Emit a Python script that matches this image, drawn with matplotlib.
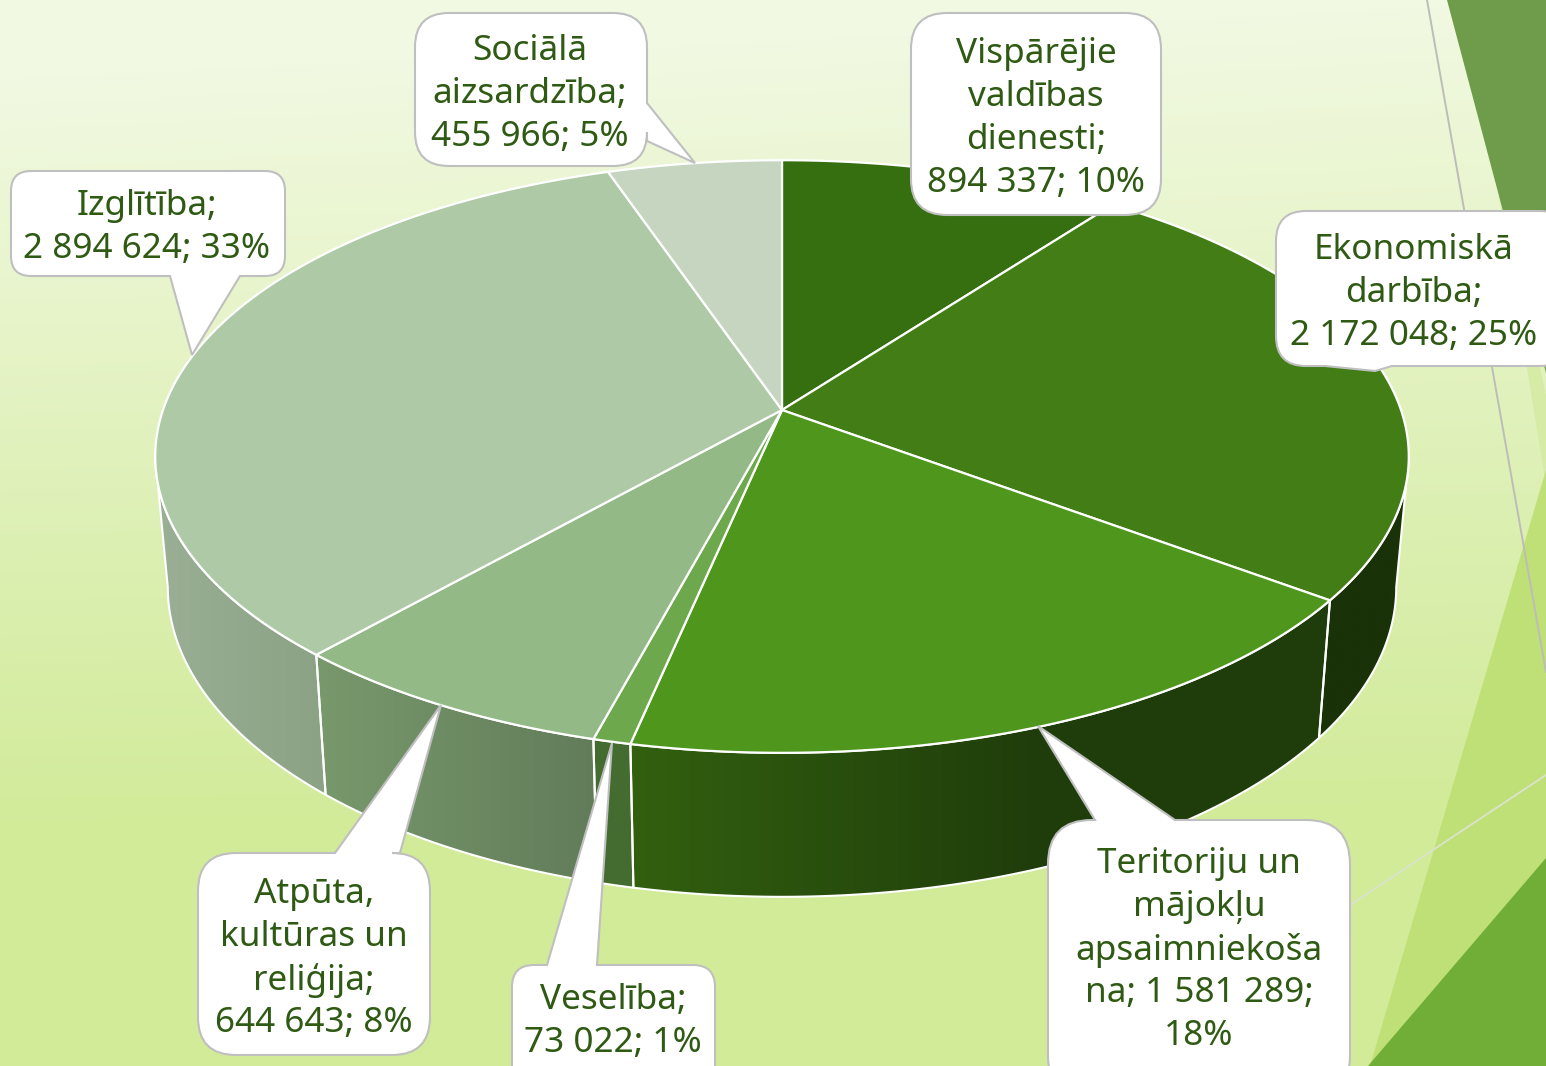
import numpy as np
import matplotlib
matplotlib.use("Agg")
import matplotlib.pyplot as plt
from matplotlib.path import Path
from matplotlib.patches import PathPatch, Polygon
from matplotlib.colors import to_rgb

plt.rcParams['font.family'] = ['Noto Sans', 'DejaVu Sans']

# chart data, clockwise from 12 o'clock
categories = ["Vispārējie valdības dienesti", "Ekonomiskā darbība",
              "Teritoriju un mājokļu apsaimniekošana", "Veselība",
              "Atpūta, kultūras un reliģija", "Izglītība", "Sociālā aizsardzība"]
values = [894337, 2172048, 1581289, 73022, 644643, 2894624, 455966]
label_texts = ["Vispārējie\nvaldības\ndienesti;\n894 337; 10%",
               "Ekonomiskā\ndarbība;\n2 172 048; 25%",
               "Teritoriju un\nmājokļu\napsaimniekoša\nna; 1 581 289;\n18%",
               "Veselība;\n73 022; 1%",
               "Atpūta,\nkultūras un\nreliģija;\n644 643; 8%",
               "Izglītība;\n2 894 624; 33%",
               "Sociālā\naizsardzība;\n455 966; 5%"]

top_colors = ["#356f10", "#427d16", "#4f971c", "#6ea84c", "#92b986", "#aec9a6", "#c5d5c0"]
side_left = ["#1f3d0a", "#1a3208", "#32600f", "#446c30", "#78996c", "#9aaf95", "#a0b49a"]
side_right = ["#1f3d0a", "#1a3208", "#1f3c0b", "#446c30", "#627c5a", "#8ba284", "#a0b49a"]
side_span = [1, 1, 0.6, 1, 1, 1, 1]

W, H = 1546, 1066
fig = plt.figure(figsize=(W / 100, H / 100), dpi=100)
ax = fig.add_axes([0, 0, 1, 1])
ax.set_xlim(0, W)
ax.set_ylim(H, 0)
ax.axis("off")

# background gradient
yy, xx = np.mgrid[0:H:2, 0:W:2]
t = np.clip(yy / H - 0.08 * (1 - xx / W) * (1 - yy / H), 0, 1)
stops = [0, 0.25, 0.5, 0.75, 1]
rgb = [to_rgb(c) for c in ["#f1f9e2", "#e7f4c9", "#dbefb0", "#d2eb9a", "#d2eb98"]]
bg = np.dstack([np.interp(t, stops, [c[i] for c in rgb]) for i in range(3)])
ax.imshow(bg, extent=[0, W, H, 0], aspect="auto", zorder=0)

# decoration on the right
ax.add_patch(Polygon([(1490, 140), (1546, 395), (1546, 485)], color="#d6eba6", lw=0, zorder=1))
ax.add_patch(Polygon([(1447, 0), (1546, 0), (1546, 373)], color="#6f9c4a", lw=0, zorder=1))
ax.add_patch(Polygon([(1370, 1066), (1546, 470), (1546, 860)], color="#bfdf77", lw=0, zorder=1))
ax.add_patch(Polygon([(1368, 1066), (1546, 858), (1546, 1066)], color="#70ae38", lw=0, zorder=1))
ax.plot([1427, 1546], [0, 672], color="#bdbdb8", lw=1.4, zorder=1)
ax.plot([1350, 1546], [905, 775], color="#d9e3c8", lw=1.4, zorder=1)


# perspective view of the pie disc
def rim(theta):
    u, v = np.sin(theta), np.cos(theta)
    w = 1 + 0.157 * v
    return 782 + 619 * u / w, 410 - 289 * v / w


def base(theta):
    x, y = rim(theta)
    return 782 + 0.98 * (x - 782), y + 128 - 16 * np.cos(theta)


fracs = np.array(values) / sum(values)
edges = np.concatenate([[0], np.cumsum(fracs)]) * 2 * np.pi

# only the front of the wall shows, between the two widest points of the disc
vis_a = np.arccos(-0.157)
vis_b = 2 * np.pi - vis_a

# sides, drawn from the outer slices to the front one
for i in [1, 5, 4, 3, 2]:
    a = max(edges[i], vis_a)
    b = min(edges[i + 1], vis_b)
    th = np.linspace(a, b, 120)
    xt, yt = rim(th)
    xb, yb = base(th)
    pts = np.vstack([np.column_stack([xt, yt]), np.column_stack([xb, yb])[::-1]])
    patch = Polygon(pts, closed=True, fc="none", ec="white", lw=1.5, zorder=2.1)
    ax.add_patch(patch)
    c0, c1 = np.array(to_rgb(side_left[i])), np.array(to_rgb(side_right[i]))
    s = np.clip(np.linspace(0, 1, 128) / side_span[i], 0, 1)[None, :, None]
    im = ax.imshow(c0 + (c1 - c0) * s, extent=[pts[:, 0].min(), pts[:, 0].max(), pts[:, 1].max(), pts[:, 1].min()],
                   aspect="auto", zorder=2)
    im.set_clip_path(patch)
ax.set_xlim(0, W)
ax.set_ylim(H, 0)

# top face
for i in range(len(values)):
    th = np.linspace(edges[i], edges[i + 1], 160)
    xt, yt = rim(th)
    pts = np.vstack([[782, 410], np.column_stack([xt, yt])])
    ax.add_patch(Polygon(pts, closed=True, fc=top_colors[i], ec="white", lw=1.6, joinstyle="round", zorder=3))


# rounded callout with optional tail points on a side
def callout(x0, y0, x1, y1, r, top=(), right=(), bottom=(), left=()):
    verts = [(x0 + r, y0)]
    codes = [Path.MOVETO]
    def add(p):
        verts.append(p)
        codes.append(Path.LINETO)
    def corner(c, e):
        verts.extend([c, e])
        codes.extend([Path.CURVE3, Path.CURVE3])
    for p in top:
        add(p)
    add((x1 - r, y0))
    corner((x1, y0), (x1, y0 + r))
    for p in right:
        add(p)
    add((x1, y1 - r))
    corner((x1, y1), (x1 - r, y1))
    for p in bottom:
        add(p)
    add((x0 + r, y1))
    corner((x0, y1), (x0, y1 - r))
    for p in left:
        add(p)
    add((x0, y0 + r))
    corner((x0, y0), (x0 + r, y0))
    ax.add_patch(PathPatch(Path(verts, codes), fc="white", ec="#bfbfbf", lw=1.5, zorder=4))


callout(911, 13, 1161, 215, 36)
callout(1276, 211, 1570, 366, 30, bottom=[(1392, 366), (1375, 371), (1325, 366)])
callout(1048, 820, 1350, 1100, 44, top=[(1095, 820), (1038, 726), (1175, 820)])
callout(512, 965, 715, 1100, 22, top=[(547, 965), (612, 743), (597, 965)])
callout(198, 853, 430, 1055, 38, top=[(335, 853), (441, 705), (400, 853)])
callout(11, 171, 285, 276, 20, bottom=[(240, 276), (192, 355), (170, 276)])
callout(415, 13, 647, 166, 34, right=[(647, 103), (695, 163), (647, 141)])

label_x = [1036, 1414, 1199, 613, 314, 147, 530]
label_y = [54, 250, 864, 1000, 894, 206, 51]
for txt, x, y in zip(label_texts, label_x, label_y):
    for n, line in enumerate(txt.split("\n")):
        ax.text(x, y + n * 43, line, ha="center", va="center", fontsize=25.3, color="#2f5a13", zorder=5)

fig.savefig("out.png", dpi=100)
